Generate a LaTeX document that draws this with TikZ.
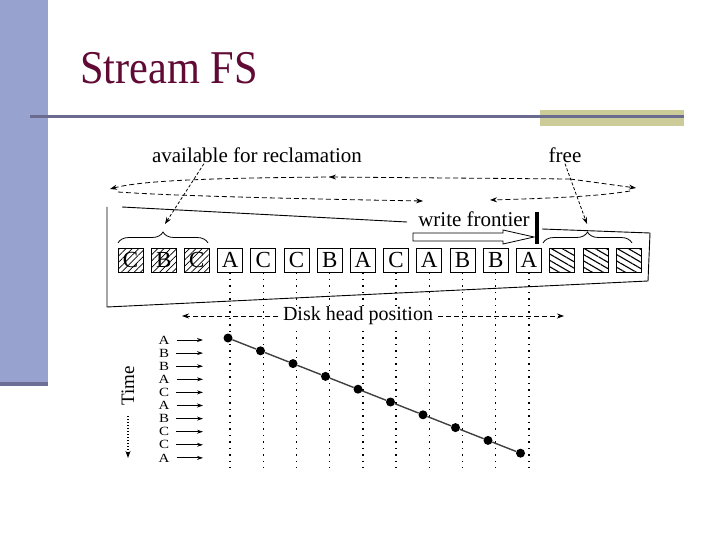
\documentclass[tikz,border=0pt]{standalone}
\usepackage{fontspec}
\setmainfont{Liberation Serif}
\usetikzlibrary{arrows.meta,positioning,calc,patterns.meta,decorations.pathreplacing}
\definecolor{SlideBar}{HTML}{97A3CE}
\definecolor{SlideBarDark}{HTML}{6C6E98}
\definecolor{RuleSlate}{HTML}{6B6B8F}
\definecolor{RuleOlive}{HTML}{CCCC99}
\definecolor{TitleMaroon}{HTML}{600A35}

\begin{document}
\begin{tikzpicture}[x=1pt,y=-1pt,
  blk/.style={draw,line width=0.7pt,minimum width=25pt,minimum height=24pt,inner sep=0pt,font=\fontsize{23}{24}\selectfont},
  oldblk/.style={blk,pattern={Lines[angle=45,distance=4.5pt,line width=0.7pt]}},
  freeblk/.style={blk,pattern={Lines[angle=-30,distance=5.5pt,line width=1.1pt]}},
  lbl/.style={font=\fontsize{21}{23}\selectfont,inner sep=1pt},
  reqlbl/.style={font=\fontsize{12.5}{13}\selectfont,inner sep=0pt,xscale=1.2},
  tip/.style={-{Stealth[length=7pt,width=5pt]}},
  dashline/.style={dash pattern=on 5pt off 3pt,line width=0.8pt},
  pointer/.style={dash pattern=on 3pt off 2pt,line width=0.8pt},
  frame/.style={line width=0.9pt},
  vdots/.style={dash pattern=on 1.5pt off 5pt,line width=1.4pt},
  dot/.style={circle,fill=black,inner sep=0pt,minimum size=9pt},
  trace/.style={line width=1.4pt,black!75},
  timedots/.style={dash pattern=on 1.5pt off 1.5pt,line width=1.8pt},
  bracket/.style={decorate,decoration={brace,amplitude=11pt},line width=0.8pt}]

  \useasboundingbox (0,0) rectangle (720,540);
  \fill[white] (0,0) rectangle (720,540);

  % slide frame
  \fill[SlideBar] (0,0) rectangle (48,382);
  \fill[SlideBarDark] (0,382) rectangle (48,386);
  \fill[RuleOlive] (540,110) rectangle (684,126);
  \draw[RuleSlate,line width=3pt] (30,117) -- (684,117);
  \node[anchor=base west,inner sep=0pt,xscale=0.9,text=TitleMaroon,font=\fontsize{47}{50}\selectfont] (title) at (80,84) {Stream FS};

  % labels on top
  \node[lbl] (avail) at (257,155) {available for reclamation};
  \node[lbl] (free) at (565,155) {free};

  % circular log, dashed
  \draw[dashline,tip] (570,179) -- (329,177);
  \draw[dashline,tip] (334,177) .. controls (200,178) and (140,181) .. (110,189);
  \draw[dashline,tip] (570,179) -- (636,188);
  \draw[dashline,tip] (118,192) .. controls (160,195) and (250,198) .. (423,201);
  \draw[dashline,tip] (630,191) .. controls (600,196) and (560,198) .. (490,200);

  % disk outline
  \draw[frame] (122,207) -- (407,222);
  \draw[frame] (542,229) -- (650,233) -- (648,281) -- (107,307) -- (107,207);

  % write frontier
  \node[lbl] (front) at (474,219) {write frontier};
  \draw[line width=4pt] (537,212) -- (537,244);
  \draw[line width=0.8pt,fill=white] (413,233) -- (503,233) -- (503,230) -- (534,237)
    -- (503,244) -- (503,241) -- (413,241) -- cycle;

  % blocks
  \node[oldblk] (b0) at (130.5,260) {C};
  \node[oldblk,right=7.5pt of b0] (b1) {B};
  \node[oldblk,right=7.5pt of b1] (b2) {C};
  \foreach \l [count=\i from 3] in {A,C,C,B,A,C,A,B,B,A} {
    \pgfmathtruncatemacro\p{\i-1}
    \node[blk,right=7.5pt of b\p] (b\i) {\l};
  }
  \node[freeblk,right=7.5pt of b12] (b13) {};
  \node[freeblk,right=7.5pt of b13] (b14) {};
  \node[freeblk,right=7.5pt of b14] (b15) {};

  % braces and pointers
  \draw[bracket] (118,243) -- (208,243);
  \draw[bracket] (543,243) -- (632,243);
  \coordinate (reclaimTip) at (165,224);
  \coordinate (freeTip) at (587,224);
  \draw[pointer,tip] ($(avail.south west)!.25!(avail.south east)$) -- (reclaimTip);
  \draw[pointer,tip] (free.south) -- (freeTip);

  % disk head position
  \coordinate (base) at (0,468);
  \foreach \i in {3,...,12}
    \draw[vdots] (b\i.south) -- (b\i.south |- base);
  \node[lbl,fill=white,font=\fontsize{20}{23}\selectfont,inner xsep=5pt] (head) at (358,316) {Disk head position};
  \coordinate (headL) at (182,316);
  \coordinate (headR) at (564,316);
  \draw[dashline,tip] (head.west) -- (headL);
  \draw[dashline,tip] (head.east) -- (headR);

  % requests in time
  \foreach \l [count=\k from 0] in {A,B,B,A,C,A,B,C,C,A} {
    \node[reqlbl] (r\k) at (164,{340+13.1*\k}) {\l};
    \coordinate (q\k) at (203,{340+13.1*\k});
    \draw[line width=0.9pt,-{Stealth[length=6pt,width=4pt]},shorten <=7pt] (r\k.east) -- (q\k);
  }
  \node[lbl,rotate=90,font=\fontsize{19}{20}\selectfont] (time) at (128,386) {Time};
  \coordinate (timeEnd) at (128,458);
  \draw[timedots,tip,shorten <=9pt] (time.west) -- (timeEnd);

  % head trace
  \foreach \k in {0,...,9}
    \node[dot] (d\k) at ({228+32.5*\k},{338+12.8*\k}) {};
  \foreach \k [count=\j] in {0,...,8}
    \draw[trace] (d\k) -- (d\j);
\end{tikzpicture}
\end{document}
